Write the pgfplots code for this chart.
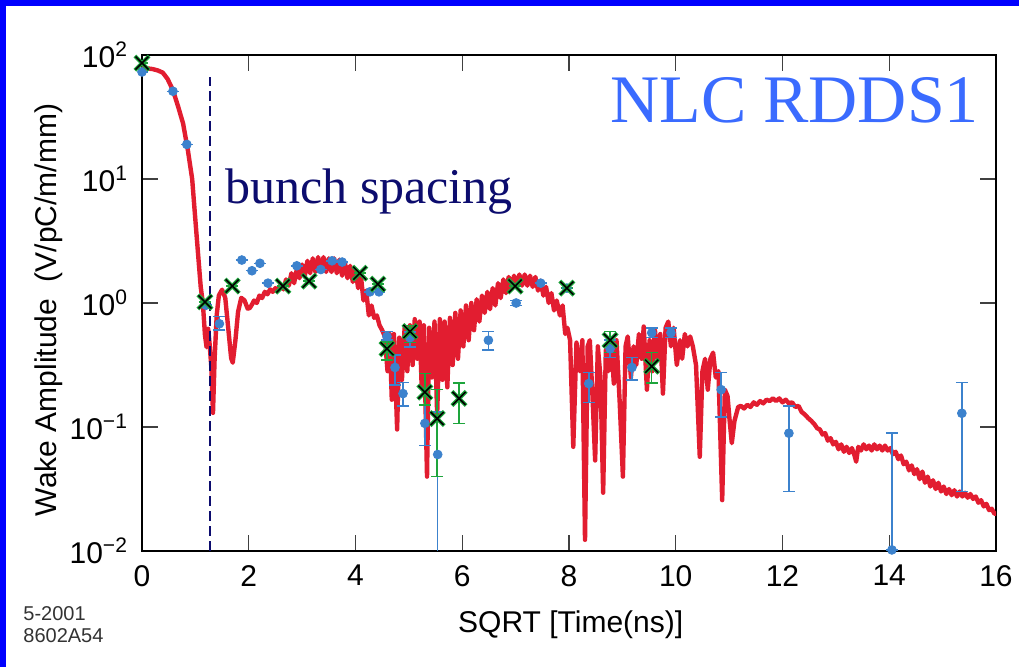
\documentclass[border=0pt]{standalone}
\usepackage{fontspec}
\setmainfont{Liberation Serif}
\setsansfont{Liberation Sans}
\usepackage{pgfplots}
\usepackage{pgfplotstable}
\pgfplotsset{compat=1.18}
\definecolor{redc}{RGB}{226,29,48}
\definecolor{bluep}{RGB}{60,130,205}
\definecolor{greenx}{RGB}{30,165,60}
\definecolor{navy}{RGB}{12,12,110}
\definecolor{titleblue}{RGB}{58,107,255}

\pgfplotstableread{
x y
0 78
0.10 78
0.20 77
0.30 75
0.39 72
0.48 64
0.58 52
0.68 38
0.77 28
0.86 17
0.94 10
0.99 5.3
1.05 2.5
1.10 1.35
1.14 1.0
1.18 0.55
1.21 0.44
1.24 0.62
1.27 0.45
1.30 0.30
1.33 0.13
1.36 0.35
1.40 0.80
1.44 1.15
1.50 1.28
1.56 1.10
1.62 0.60
1.67 0.36
1.70 0.33
1.75 0.50
1.80 0.85
1.86 1.10
1.92 1.05
1.98 0.90
2.02 0.912
2.05 0.955
2.10 1.047
2.15 1.00
2.20 1.148
2.25 1.096
2.30 1.230
2.35 1.175
2.40 1.288
2.45 1.230
2.50 1.318
2.55 1.259
2.60 1.413
2.65 1.288
2.70 1.549
2.75 1.380
2.80 1.738
2.85 1.445
2.90 1.862
2.95 1.585
3.00 2.042
3.05 1.660
3.10 2.188
3.15 1.738
3.20 2.291
3.25 1.778
3.30 2.344
3.35 1.820
3.40 2.344
3.45 1.778
3.50 2.291
3.55 1.778
3.60 2.291
3.65 1.738
3.70 2.239
3.75 1.660
3.80 2.138
3.85 1.585
3.90 1.995
3.95 1.479
4.00 1.862
4.05 1.318
4.10 1.660
4.15 1.047
4.20 1.259
4.25 0.794
4.30 0.955
4.35 0.759
4.40 0.794
4.45 0.661
4.50 0.603
4.55 0.537
4.60 0.282
4.64 0.562
4.68 0.166
4.72 0.562
4.78 0.0955
4.82 0.525
4.87 0.240
4.92 0.631
4.97 0.282
5.02 0.661
5.07 0.316
5.11 0.741
5.16 0.355
5.20 0.708
5.24 0.209
5.28 0.661
5.34 0.0398
5.38 0.631
5.43 0.251
5.48 0.708
5.53 0.126
5.58 0.741
5.63 0.240
5.67 0.708
5.72 0.209
5.77 0.759
5.82 0.316
5.87 0.832
5.92 0.355
5.97 0.871
6.02 0.447
6.07 0.955
6.12 0.501
6.17 1.00
6.22 0.603
6.27 1.072
6.32 0.708
6.37 1.148
6.42 0.832
6.47 1.230
6.52 0.891
6.57 1.318
6.62 0.955
6.67 1.445
6.72 1.096
6.77 1.549
6.82 1.202
6.87 1.622
6.92 1.288
6.97 1.660
7.02 1.349
7.07 1.698
7.12 1.380
7.17 1.698
7.22 1.380
7.27 1.660
7.32 1.349
7.37 1.622
7.42 1.259
7.47 1.514
7.52 1.148
7.57 1.349
7.62 1.00
7.67 1.202
7.72 0.871
7.77 1.047
7.83 0.794
7.88 0.955
7.93 0.562
7.97 0.631
8.02 0.501
8.08 0.0692
8.14 0.479
8.20 0.282
8.25 0.501
8.30 0.0123
8.35 0.447
8.39 0.501
8.44 0.178
8.49 0.0537
8.54 0.447
8.59 0.251
8.64 0.0295
8.69 0.417
8.74 0.282
8.79 0.501
8.84 0.224
8.89 0.501
8.95 0.158
9.01 0.0398
9.06 0.447
9.10 0.537
9.16 0.251
9.21 0.447
9.26 0.316
9.31 0.562
9.36 0.355
9.40 0.646
9.46 0.200
9.51 0.501
9.56 0.282
9.61 0.603
9.66 0.355
9.71 0.562
9.76 0.186
9.81 0.631
9.86 0.708
9.91 0.447
9.96 0.631
10.02 0.316
10.08 0.501
10.12 0.355
10.17 0.562
10.22 0.447
10.27 0.537
10.32 0.447
10.38 0.316
10.45 0.0575
10.50 0.282
10.55 0.355
10.60 0.200
10.65 0.355
10.70 0.398
10.75 0.251
10.80 0.282
10.87 0.0257
10.92 0.200
10.97 0.178
11.01 0.112
11.05 0.0741
11.10 0.112
11.17 0.145
11.22 0.148
11.28 0.141
11.34 0.151
11.40 0.145
11.46 0.158
11.52 0.151
11.58 0.162
11.64 0.155
11.70 0.166
11.76 0.162
11.82 0.170
11.88 0.162
11.94 0.170
12.00 0.158
12.06 0.166
12.12 0.155
12.18 0.158
12.24 0.145
12.30 0.148
12.36 0.132
12.42 0.126
12.48 0.118
12.54 0.112
12.60 0.105
12.65 0.0977
12.70 0.0955
12.75 0.0870
12.80 0.0891
12.85 0.0776
12.90 0.0813
12.95 0.0724
13.00 0.0759
13.05 0.0661
13.10 0.0724
13.15 0.0631
13.20 0.0692
13.25 0.0617
13.30 0.0676
13.35 0.0589
13.38 0.0525
13.42 0.0692
13.47 0.0646
13.52 0.0724
13.57 0.0661
13.62 0.0708
13.67 0.0646
13.72 0.0724
13.77 0.0661
13.82 0.0708
13.87 0.0646
13.92 0.0708
13.97 0.0646
14.02 0.0676
14.07 0.0603
14.12 0.0631
14.17 0.0550
14.22 0.0589
14.27 0.0501
14.32 0.0525
14.37 0.0447
14.42 0.0490
14.47 0.0417
14.52 0.0457
14.57 0.0380
14.62 0.0437
14.67 0.0355
14.72 0.0398
14.77 0.0331
14.82 0.0372
14.87 0.0316
14.92 0.0355
14.97 0.0302
15.02 0.0331
15.07 0.0288
15.12 0.0316
15.17 0.0282
15.22 0.0309
15.27 0.0275
15.32 0.0302
15.37 0.0275
15.42 0.0295
15.47 0.0269
15.52 0.0288
15.57 0.0263
15.62 0.0275
15.67 0.0245
15.72 0.0257
15.77 0.0229
15.82 0.0240
15.87 0.0214
15.92 0.0219
15.97 0.0200
16.00 0.0200
}\redcurve

\pgfplotstableread{
x y ep em
0 73 0 0
0.58 51 0 0
0.84 19 0 0
1.20 0.96 0 0
1.45 0.68 0.096 0.077
1.87 2.22 0 0
2.06 1.82 0 0
2.21 2.09 0 0
2.36 1.445 0 0
2.90 1.995 0 0
3.35 1.862 0 0
3.56 2.188 0 0
3.75 2.138 0 0
4.27 1.230 0 0
4.44 1.230 0 0
4.59 0.537 0.052 0.036
4.74 0.302 0.078 0.083
4.89 0.186 0.043 0.038
5.02 0.525 0.058 0.083
5.30 0.107 0.044 0.036
5.54 0.060 0.072 0.0595
6.49 0.501 0.088 0.084
7.01 1.00 0.045 0.045
7.47 1.445 0 0
7.96 1.318 0 0
8.37 0.224 0.051 0.066
8.77 0.427 0.074 0.064
9.18 0.302 0.061 0.062
9.55 0.575 0.056 0.050
9.91 0.575 0.056 0.050
10.85 0.200 0.075 0.080
12.12 0.0891 0.059 0.0589
14.05 0.0102 0.0789 0
15.36 0.129 0.100 0.0988
}\bluepts

\pgfplotstableread{
x y ep em
0 86 0 0
1.18 1.02 0 0
1.69 1.37 0 0
2.64 1.37 0 0
3.13 1.50 0 0
4.08 1.74 0 0
4.42 1.42 0 0
4.59 0.427 0.057 0.080
5.02 0.589 0.072 0.110
5.30 0.191 0.078 0.040
5.53 0.117 0.083 0.077
5.94 0.170 0.056 0.063
6.99 1.37 0 0
7.96 1.318 0 0
8.77 0.501 0.088 0.103
9.55 0.309 0.089 0.083
}\greenpts

\begin{document}
\begin{tikzpicture}
\useasboundingbox (0,0) rectangle (509.5pt,333.5pt);
\fill[white] (0,0) rectangle (509.5pt,333.5pt);
\fill[blue] (0,330.5pt) rectangle (509.5pt,333.5pt);
\fill[blue] (0,0) rectangle (3pt,333.5pt);
\node[anchor=base west, font=\sffamily\fontsize{10}{12}\selectfont, text=black!80, inner sep=0] at (11.5pt,23pt) {5-2001};
\node[anchor=base west, font=\sffamily\fontsize{10}{12}\selectfont, text=black!80, inner sep=0] at (11.5pt,12pt) {8602A54};
\begin{axis}[
  at={(71pt,58pt)}, anchor=south west, scale only axis,
  width=427pt, height=248pt,
  xmin=0, xmax=16, ymode=log, ymin=0.01, ymax=100,
  xtick={0,2,...,16},
  ytick={0.01,0.1,1,10,100},
  yticklabels={10\textsuperscript{−2},10\textsuperscript{−1},10\textsuperscript{0},10\textsuperscript{1},10\textsuperscript{2}},
  xminorticks=false, yminorticks=false,
  tick align=inside, major tick length=8pt,
  axis line style={line width=1.2pt, black},
  tick style={line width=0.6pt, black!75},
  /pgf/number format/assume math mode=true,
  tick label style={font=\sffamily\fontsize{15}{15}\selectfont},
  xticklabel style={yshift=-3.5pt},
  yticklabel style={xshift=-3.5pt},
  xlabel={SQRT [Time(ns)]},
  ylabel={Wake Amplitude~~(V/pC/m/mm)},
  label style={font=\sffamily\fontsize{15}{15}\selectfont},
  xlabel style={at={(axis description cs:0.502,-0.149)}, anchor=center},
  ylabel style={at={(axis description cs:-0.109,0.486)}, anchor=center},
  clip=true,
]
\addplot[redc, line width=2.2pt, line join=round, no markers] table[x=x,y=y] {\redcurve};
\draw[navy, line width=1.3pt, dash pattern=on 5pt off 2.5pt] (axis cs:1.274,0.01) -- (axis cs:1.274,66);
\addplot[only marks, mark=*, mark size=2.2pt, color=bluep,
  error bars/.cd, y dir=both, y explicit,
  error bar style={line width=0.75pt, bluep},
  error mark options={rotate=90, mark size=3pt, line width=0.75pt, bluep}]
  table[x=x, y=y, y error plus=ep, y error minus=em] {\bluepts};
\addplot[only marks, mark=x, mark size=5pt, color=greenx, mark options={line width=2pt},
  error bars/.cd, y dir=both, y explicit,
  error bar style={line width=0.75pt, greenx},
  error mark options={rotate=90, mark size=3pt, line width=0.75pt, greenx}]
  table[x=x, y=y, y error plus=ep, y error minus=em] {\greenpts};
\addplot[only marks, mark=x, mark size=4.6pt, color=black, mark options={line width=0.8pt}]
  table[x=x, y=y] {\greenpts};
\node[anchor=base west, font=\rmfamily\fontsize{25}{25}\selectfont, text=navy, inner sep=0] at (axis cs:1.555,6.4) {bunch spacing};
\node[anchor=base, font=\rmfamily\fontsize{34}{34}\selectfont, text=titleblue, inner sep=0] at (axis cs:12.23,28.8) {NLC RDDS1};
\end{axis}
\end{tikzpicture}
\end{document}
